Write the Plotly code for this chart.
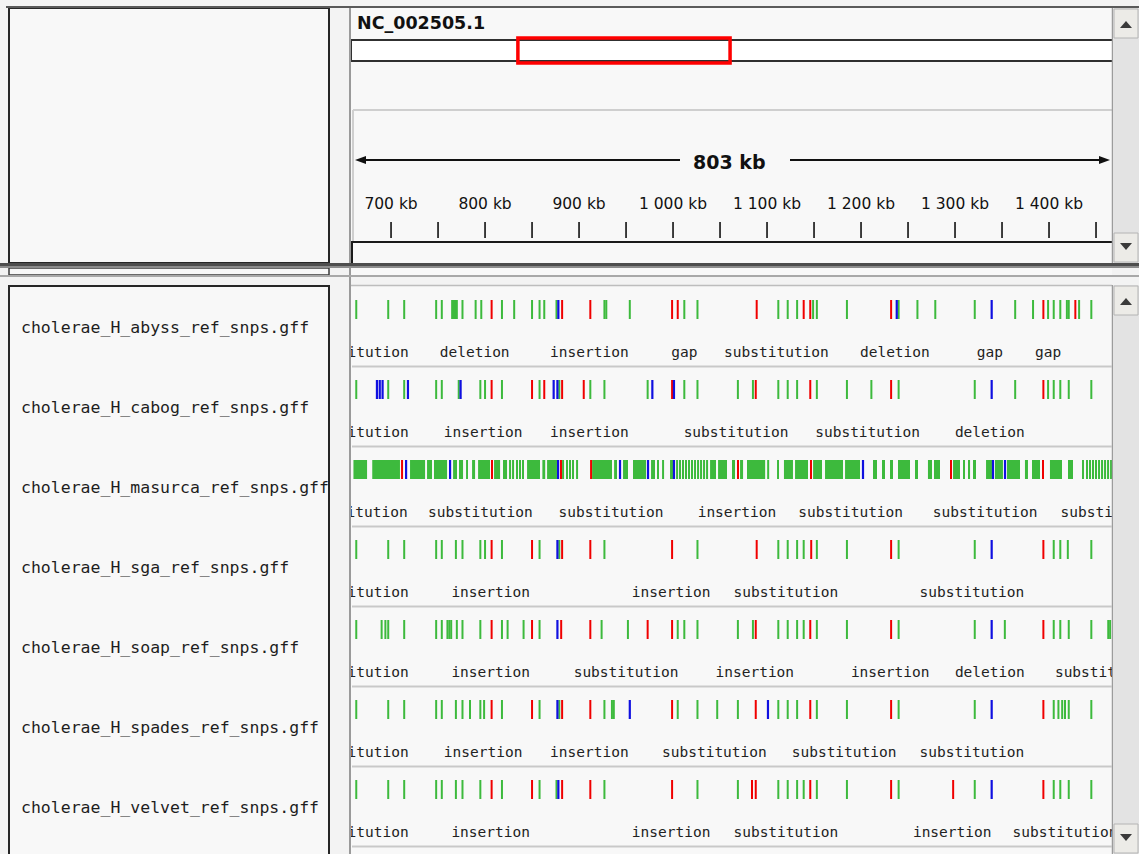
import plotly.graph_objects as go

W, H = 1139, 854

# ---- genomic window --------------------------------------------------------
chrom_name = "NC_002505.1"
chrom_len_kb = 2961.149
view_start_kb = 657.4
view_end_kb = 1467.0
view_width_label = "803 kb"

ruler_minor_kb = [700, 750, 800, 850, 900, 950, 1000, 1050, 1100, 1150,
                  1200, 1250, 1300, 1350, 1400, 1450]
ruler_major_kb = [700, 800, 900, 1000, 1100, 1200, 1300, 1400]
ruler_major_labels = ["700 kb", "800 kb", "900 kb", "1 000 kb", "1 100 kb",
                      "1 200 kb", "1 300 kb", "1 400 kb"]

track_names = [
    "cholerae_H_abyss_ref_snps.gff",
    "cholerae_H_cabog_ref_snps.gff",
    "cholerae_H_masurca_ref_snps.gff",
    "cholerae_H_sga_ref_snps.gff",
    "cholerae_H_soap_ref_snps.gff",
    "cholerae_H_spades_ref_snps.gff",
    "cholerae_H_velvet_ref_snps.gff",
]

# ---- feature positions (kb) per track and variant type ---------------------
abyss_sub = [663, 697, 714, 748, 754, 765, 767, 769, 770, 776, 790, 796, 818, 831,
             850, 858, 863, 876, 927, 929, 954, 1012, 1026, 1112, 1122, 1132, 1149,
             1153, 1185, 1240, 1260, 1279, 1321, 1364, 1383, 1399, 1405, 1412, 1419,
             1421, 1432, 1445]
abyss_ins = [807, 882, 912, 999, 1005, 1089, 1139, 1146, 1232, 1394, 1428]
abyss_del = [878, 1238, 1339]

cabog_sub = [663, 697, 714, 748, 754, 772, 795, 800, 818, 858, 879, 912, 927, 973,
             1012, 1026, 1069, 1085, 1112, 1122, 1132, 1153, 1185, 1211, 1240, 1321,
             1364, 1399, 1405, 1412, 1421, 1445]
cabog_ins = [807, 850, 863, 882, 905, 999, 1088, 1146, 1232, 1394]
cabog_del = [685, 688, 691, 718, 774, 873, 877, 978, 1001, 1339]

masurca_blocks = [
    (660, 674.5), (680, 709.5), (720.2, 736.2), (738.3, 743.6), (745.7, 759.6),
    (766, 770.2), (772.3, 776.6), (779.8, 781.9), (786.2, 789.4), (792.6, 805.3),
    (809.6, 816), (819.1, 823.4), (844.7, 858.5), (861, 864), (866, 876.6),
    (913.9, 935.1), (937.3, 940.4), (946.8, 952.1), (957.4, 971.3), (976.6, 980.8),
    (996.8, 1000), (1039.4, 1045.7), (1047.9, 1057.4), (1062.7, 1065.9),
    (1071.3, 1074.5), (1078.7, 1098), (1118, 1127.6), (1129.8, 1143.6),
    (1149, 1158.5), (1161.7, 1180.8), (1183, 1198.9), (1212.7, 1217),
    (1222.3, 1225.5), (1230.8, 1234), (1239.3, 1252.1), (1257.4, 1260.6),
    (1271.2, 1275.5), (1277.6, 1284), (1297.9, 1305.3), (1308.5, 1310.6),
    (1313.8, 1316), (1319.1, 1322.3), (1333, 1339.3), (1342.5, 1351),
    (1355.3, 1369.1), (1374.4, 1377.6), (1381.9, 1390.4), (1401, 1413.8),
    (1420.2, 1425.5), (1435.1, 1437.2),
]
masurca_sub = [826.6, 829.8, 834, 837.2, 840.4, 883, 887.2, 890.4, 893.6, 897.9,
               984, 989.4, 1004.3, 1007.4, 1010.6, 1013.8, 1017, 1020.2, 1023.4,
               1026.6, 1029.8, 1033, 1036.2, 1101.2, 1111.7, 1440.4, 1443.6,
               1446.8, 1450, 1453.2, 1456.4, 1459.6, 1462.8, 1466]
masurca_ins = [711.7, 807.4, 880.8, 912.8, 1069.1, 1146.8, 1295.7, 1393.6]
masurca_del = [716, 762.8, 877.7, 943.6, 973.4, 1001, 1202.1, 1340.4, 1353.2]

sga_sub = [663, 697, 714, 748, 754, 769, 776, 795, 800, 818, 858, 879, 927, 1026,
           1112, 1122, 1132, 1139, 1153, 1185, 1240, 1321, 1405, 1412, 1420, 1445]
sga_ins = [807, 850, 882, 912, 999, 1089, 1147, 1232, 1394]
sga_del = [877, 1339]

soap_sub = [663, 690, 694, 697, 714, 748, 754, 760, 762, 764, 770, 776, 795, 818,
            824, 841, 858, 924, 952, 1005, 1012, 1026, 1069, 1085, 1112, 1122, 1132,
            1139, 1153, 1185, 1240, 1321, 1353, 1405, 1412, 1421, 1445, 1463, 1465]
soap_ins = [807, 850, 881, 912, 973, 999, 1088, 1146, 1232, 1394]
soap_del = [877, 1339]

spades_sub = [663, 697, 714, 748, 754, 769, 776, 784, 795, 799, 818, 858, 879, 927,
              935, 937, 1005, 1026, 1047, 1069, 1112, 1122, 1132, 1153, 1185, 1240,
              1321, 1405, 1410, 1414, 1417, 1421, 1445]
spades_ins = [807, 850, 882, 912, 999, 1088, 1146, 1232, 1394]
spades_del = [877, 954, 1101, 1339]

velvet_sub = [663, 697, 714, 748, 754, 769, 776, 795, 818, 858, 876, 927, 1026, 1069,
              1112, 1122, 1132, 1139, 1153, 1185, 1240, 1321, 1405, 1412, 1421, 1445]
velvet_ins = [807, 850, 882, 912, 999, 1084, 1088, 1146, 1232, 1298, 1394]
velvet_del = [878, 1339]

# ---- feature names printed under each track (kb centre, name) --------------
abyss_labels = [(663, "substitution"), (789, "deletion"), (911, "insertion"),
                (1012, "gap"), (1110, "substitution"), (1236, "deletion"),
                (1337, "gap"), (1399, "gap")]
cabog_labels = [(663, "substitution"), (798, "insertion"), (911, "insertion"),
                (1067, "substitution"), (1207, "substitution"), (1337, "deletion")]
masurca_labels = [(662, "substitution"), (795, "substitution"), (934, "substitution"),
                  (1068, "insertion"), (1189, "substitution"), (1332, "substitution"),
                  (1468, "substitution")]
sga_labels = [(663, "substitution"), (806, "insertion"), (998, "insertion"),
              (1120, "substitution"), (1318, "substitution")]
soap_labels = [(663, "substitution"), (806, "insertion"), (950, "substitution"),
               (1087, "insertion"), (1231, "insertion"), (1337, "deletion"),
               (1462, "substitution")]
spades_labels = [(663, "substitution"), (798, "insertion"), (911, "insertion"),
                 (1044, "substitution"), (1182, "substitution"), (1318, "substitution")]
velvet_labels = [(663, "substitution"), (806, "insertion"), (998, "insertion"),
                 (1120, "substitution"), (1297, "insertion"), (1417, "substitution")]

tracks = [
    (abyss_sub, abyss_ins, abyss_del, [], abyss_labels),
    (cabog_sub, cabog_ins, cabog_del, [], cabog_labels),
    (masurca_sub, masurca_ins, masurca_del, masurca_blocks, masurca_labels),
    (sga_sub, sga_ins, sga_del, [], sga_labels),
    (soap_sub, soap_ins, soap_del, [], soap_labels),
    (spades_sub, spades_ins, spades_del, [], spades_labels),
    (velvet_sub, velvet_ins, velvet_del, [], velvet_labels),
]

GREEN, RED, BLUE = "#3dba3d", "#f00000", "#1010e0"
BG = "#f8f8f8"
MONO = "DejaVu Sans Mono"
SANS = "DejaVu Sans"

# screen layout (pixels)
PANEL_X0, PANEL_X1 = 351, 1112
TRACK_TOP0, TRACK_H = 285, 80

fig = go.Figure()
shapes = []
annotations = []


def rect(x0, y0, x1, y1, fill=None, line=None, lw=0, layer="above"):
    shapes.append(dict(type="rect", xref="x", yref="y", x0=x0, y0=y0, x1=x1, y1=y1,
                       fillcolor=fill if fill else "rgba(0,0,0,0)",
                       line=dict(color=line if line else "rgba(0,0,0,0)", width=lw),
                       layer=layer))


def hline(x0, x1, y, color, lw=1, layer="above"):
    shapes.append(dict(type="line", xref="x", yref="y", x0=x0, x1=x1, y0=y, y1=y,
                       line=dict(color=color, width=lw), layer=layer))


def vline(x, y0, y1, color, lw=1, layer="above"):
    shapes.append(dict(type="line", xref="x", yref="y", x0=x, x1=x, y0=y0, y1=y1,
                       line=dict(color=color, width=lw), layer=layer))


def path(d, fill, layer="above"):
    shapes.append(dict(type="path", xref="x", yref="y", path=d, fillcolor=fill,
                       line=dict(width=0), layer=layer))


# ---- window chrome ---------------------------------------------------------
rect(0, 0, W, H, fill="#f3f3f3", layer="below")
hline(6, W, 7, "#5a5a5a", 2)

# name panels (top and bottom)
rect(9, 8, 329, 263, fill=BG, line="#262626", lw=2, layer="below")
rect(9, 286, 329, H + 4, fill=BG, line="#262626", lw=2, layer="below")
rect(9, 268, 329, 275, fill=BG, line="#3a3a3a", lw=1.5, layer="below")

# data panels backgrounds
rect(PANEL_X0, 8, PANEL_X1, 263, fill=BG, layer="below")
rect(PANEL_X0, 268, PANEL_X1, 275, fill=BG, layer="below")
rect(PANEL_X0, 286, PANEL_X1, H, fill=BG, layer="below")
vline(350, 8, H, "#9a9a9a", 2)

# ideogram of the whole chromosome
rect(PANEL_X0, 40, PANEL_X1 + 1, 61, fill="#ffffff", line="#303030", lw=2, layer="below")

# ruler frame
hline(353, PANEL_X1, 110, "#cfcfcf", 2)
vline(353, 110, 242, "#cfcfcf", 2)
hline(PANEL_X0, PANEL_X1, 242, "#1a1a1a", 2)
vline(352, 242, 263, "#1a1a1a", 2)

# arrow showing the visible span
hline(358, 680, 160, "#111111", 2)
hline(790, 1104, 160, "#111111", 2)
path("M 355 160 L 366 156 L 366 164 Z", "#111111")
path("M 1110 160 L 1099 156 L 1099 164 Z", "#111111")
annotations.append(dict(xref="x", yref="y", x=(PANEL_X0 + PANEL_X1) / 2 - 2, y=162,
                        text="<b>%s</b>" % view_width_label, showarrow=False,
                        font=dict(family=SANS, size=19, color="#111111")))

annotations.append(dict(xref="x", yref="y", x=355, y=23, xanchor="left",
                        text="<b>%s</b>" % chrom_name, showarrow=False,
                        font=dict(family=SANS, size=17.5, color="#111111")))

# splitter between the two panes
rect(0, 263, W, 266, fill="#4e4e4e")
rect(0, 266, W, 268, fill="#8c8c8c")
hline(0, W, 276, "#a8a8a8", 2)
hline(PANEL_X0, PANEL_X1, 285.5, "#bdbdbd", 1.5)

# scrollbars
SB0, SB1 = 1113, W
vline(1112.5, 8, 263, "#9c9c9c", 1.5)
vline(1112.5, 285, H, "#9c9c9c", 1.5)
for (t0, t1) in [(8, 263), (285, H)]:
    rect(SB0, t0, SB1, t1, fill="#e3e3e3")
    rect(SB0 + 1, t0 + 1, SB1 - 1, t0 + 30, fill="#ecebe7", line="#b4b4b4", lw=1)
    rect(SB0 + 1, t1 - 30, SB1 - 1, t1 - 1, fill="#ecebe7", line="#b4b4b4", lw=1)
    cx = (SB0 + SB1) / 2
    path("M %g %g L %g %g L %g %g Z" % (cx - 6, t0 + 20, cx + 6, t0 + 20, cx, t0 + 13), "#3a3a3a")
    path("M %g %g L %g %g L %g %g Z" % (cx - 6, t1 - 20, cx + 6, t1 - 20, cx, t1 - 13), "#3a3a3a")

# ---- track names -----------------------------------------------------------
for i, name in enumerate(track_names):
    top = TRACK_TOP0 + TRACK_H * i
    annotations.append(dict(xref="x", yref="y", x=19, y=top + 42, xanchor="left",
                            text=name, showarrow=False,
                            font=dict(family=MONO, size=16.5, color="#1e1e1e")))
    hline(PANEL_X0 + 1, PANEL_X1, top + 81.5, "#c9c9c9", 2)

# ---- genomic subplot: ruler ticks and features -------------------------------
for kb in ruler_minor_kb:
    shapes.append(dict(type="line", xref="x2", yref="y2", x0=kb, x1=kb, y0=222, y1=238,
                       line=dict(color="#111111", width=1.6), layer="above"))

fig.add_trace(go.Scatter(
    x=ruler_major_kb, y=[205] * len(ruler_major_kb), text=ruler_major_labels,
    mode="text", textposition="middle center", cliponaxis=True,
    textfont=dict(family=SANS, size=15.5, color="#111111"),
    xaxis="x2", yaxis="y2", hoverinfo="skip", showlegend=False))


def feature_lines(positions, top):
    xs, ys = [], []
    for p in positions:
        xs += [p, p, None]
        ys += [top + 15, top + 34, None]
    return xs, ys


for i, (sub, ins, dele, blocks, labels) in enumerate(tracks):
    top = TRACK_TOP0 + TRACK_H * i
    for (s, e) in blocks:
        shapes.append(dict(type="rect", xref="x2", yref="y2", x0=s, x1=e,
                           y0=top + 15, y1=top + 34, fillcolor=GREEN,
                           line=dict(width=0), layer="below"))
    for positions, color, w in [(sub, GREEN, 2), (ins, RED, 2), (dele, BLUE, 2.2)]:
        xs, ys = feature_lines(positions, top)
        fig.add_trace(go.Scatter(x=xs, y=ys, mode="lines",
                                 line=dict(color=color, width=w),
                                 xaxis="x2", yaxis="y2", hoverinfo="skip",
                                 showlegend=False))
    fig.add_trace(go.Scatter(
        x=[p for p, _ in labels], y=[top + 68.5] * len(labels),
        text=[t for _, t in labels], mode="text", textposition="middle center",
        cliponaxis=True, textfont=dict(family=MONO, size=14.5, color="#222222"),
        xaxis="x2", yaxis="y2", hoverinfo="skip", showlegend=False))

# ---- ideogram subplot: current view on the whole chromosome ------------------
fig.add_trace(go.Scatter(x=[0], y=[-10], mode="markers", marker=dict(size=1, opacity=0),
                         xaxis="x3", yaxis="y3", hoverinfo="skip", showlegend=False))
shapes.append(dict(type="rect", xref="x3", yref="y3", x0=view_start_kb - 8,
                   x1=view_end_kb + 8, y0=38, y1=63,
                   line=dict(color="#ff0000", width=3.5),
                   fillcolor="rgba(0,0,0,0)", layer="above"))

fig.add_trace(go.Scatter(x=[0], y=[-10], mode="markers", marker=dict(size=1, opacity=0),
                         hoverinfo="skip", showlegend=False))

dom = [PANEL_X0 / W, PANEL_X1 / W]
hidden = dict(visible=False, showgrid=False, zeroline=False, fixedrange=True)
fig.update_layout(
    width=W, height=H, margin=dict(l=0, r=0, t=0, b=0),
    paper_bgcolor="#f3f3f3", plot_bgcolor="rgba(0,0,0,0)",
    hovermode=False, showlegend=False,
    xaxis=dict(range=[0, W], domain=[0, 1], anchor="y", **hidden),
    yaxis=dict(range=[H, 0], domain=[0, 1], anchor="x", **hidden),
    xaxis2=dict(range=[view_start_kb, view_end_kb], domain=dom, anchor="y2", **hidden),
    yaxis2=dict(range=[H, 0], domain=[0, 1], anchor="x2", **hidden),
    xaxis3=dict(range=[0, chrom_len_kb], domain=dom, anchor="y3", **hidden),
    yaxis3=dict(range=[H, 0], domain=[0, 1], anchor="x3", **hidden),
    shapes=shapes, annotations=annotations,
)

fig.write_html("out.html")
